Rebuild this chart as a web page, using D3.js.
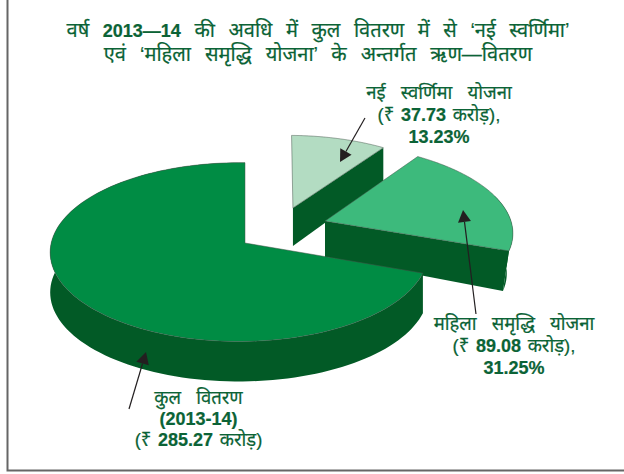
<!DOCTYPE html>
<html>
<head>
<meta charset="utf-8">
<script src="https://cdn.jsdelivr.net/npm/d3@7"></script>
<style>
body { margin: 0; background: #fff; }
svg { display: block; }
text { font-family: "Liberation Sans", "Noto Sans", "DejaVu Sans", sans-serif; fill: #0b6336; stroke: #0b6336; stroke-width: 0.2; text-anchor: middle; }
.num { font-weight: bold; }
</style>
</head>
<body>
<svg id="chart" width="624" height="474"></svg>
<script>
// title and callout lines, each line is a list of [text, bold]
var titleLines = [
    [["वर्ष ", 0], ["2013—14", 1], [" की अवधि में कुल वितरण में से ‘नई स्वर्णिमा’", 0]],
    [["एवं ‘महिला समृद्धि योजना’ के अन्तर्गत ऋण—वितरण", 0]]
]
var lightLabel = [
    [["नई स्वर्णिमा योजना", 0]],
    [["(₹ ", 0], ["37.73", 1], [" करोड़),", 0]],
    [["13.23%", 1]]
]
var mediumLabel = [
    [["महिला समृद्धि योजना", 0]],
    [["(₹ ", 0], ["89.08", 1], [" करोड़),", 0]],
    [["31.25%", 1]]
]
var mainLabel = [
    [["कुल वितरण", 0]],
    [["(2013-14)", 1]],
    [["(₹ ", 0], ["285.27", 1], [" करोड़)", 0]]
]

// angular share of each slice as drawn in the picture (not the printed amounts)
var sliceNames = ["light", "medium", "main"]
var drawnShares = [9.75, 20.75, 69.5]

var svg = d3.select("#chart")

var colors = { light: "#b3dcc2", medium: "#3dba7c", main: "#008c44" }
var sideColor = "#025a26"

// where each slice sits on the tilted disc: apex offset, radius, side depth at apex and at cut end
var place = {
    light:  { u: 0.267, v: -0.415, r: 0.98, turn: 1, ku: 0, depth: [38, 33], lean: 0 },
    medium: { u: 0.439, v: -0.256, r: 1.02, turn: 0, ku: 0, depth: [36, 40], lean: -6 },
    main:   { u: 0, v: 0, r: 1.005, turn: 0, ku: 0.03, depth: [40, 40], lean: 0 }
}

// perspective of the disc
var cx = 245, cy = 243, rx = 187, ry = 88, kv = 0.101
function project(u, v, ku) {
    var w = 1 - kv * v + ku * u
    return [cx + rx * u / w, cy + ry * v / w]
}

var pie = d3.pie().sort(null).value(function(d) { return d })
var arcs = pie(drawnShares)
var line = d3.line()

// slices come out clockwise from 12 o'clock: light, medium, then main
sliceNames.forEach(function(name, i) {
    var p = place[name], a = arcs[i]
    var t0 = a.startAngle + p.turn * Math.PI / 180, t1 = a.endAngle
    var rim = d3.range(0, 121).map(function(j) {
        var t = t0 + (t1 - t0) * j / 120
        return project(p.u + p.r * Math.sin(t), p.v - p.r * Math.cos(t), p.ku)
    })
    var apex = project(p.u, p.v, p.ku)
    var end = name == "main" ? rim[0] : rim[120]
    var down = function(q) {
        var f = name == "main" ? 0 : (q[0] - apex[0]) / (end[0] - apex[0])
        return [q[0] + p.lean * f, q[1] + p.depth[0] + (p.depth[1] - p.depth[0]) * f]
    }

    // side wall: cut face for the two small slices, outer wall for the rest
    if (name != "main") {
        svg.append("path").attr("d", line([apex, end, down(end), down(apex)]) + "Z").attr("fill", sideColor)
    }
    if (name != "light") {
        var wall = name == "main" ? rim : rim.slice(60)
        svg.append("path").attr("d", line(wall.concat(wall.map(down).reverse())) + "Z").attr("fill", sideColor)
    }
    svg.append("path")
        .attr("d", line([apex].concat(rim)) + "Z")
        .attr("fill", colors[name])
        .attr("stroke", "#44544a").attr("stroke-width", 0.5)
})

// frame
svg.append("path").attr("d", "M7.5,0V470.5H624").attr("fill", "none").attr("stroke", "#666").attr("stroke-width", 2)

// callouts
var arrows = [
    { from: [365, 118], tip: [340, 162] },
    { from: [476, 314], tip: [463, 210] },
    { from: [129, 409], tip: [146, 352] }
]
arrows.forEach(function(a) {
    var ang = Math.atan2(a.from[1] - a.tip[1], a.from[0] - a.tip[0])
    var len = 12, half = 6.5
    var bx = a.tip[0] + len * Math.cos(ang), by = a.tip[1] + len * Math.sin(ang)
    svg.append("line").attr("x1", a.from[0]).attr("y1", a.from[1]).attr("x2", bx).attr("y2", by)
        .attr("stroke", "#231f20").attr("stroke-width", 1.2)
    svg.append("path").attr("fill", "#231f20").attr("d", line([
        a.tip,
        [bx - half * Math.sin(ang), by + half * Math.cos(ang)],
        [bx + half * Math.sin(ang), by - half * Math.cos(ang)]
    ]) + "Z")
})

// gap is the word spacing of plain hindi lines, numGap of lines holding a number
function block(lines, x, y, step, hindi, num, gap, numGap) {
    lines.forEach(function(parts, i) {
        var t = svg.append("text").attr("x", x).attr("y", y + i * step)
            .style("word-spacing", (parts.length > 1 ? numGap : gap) + "px")
        parts.forEach(function(p) {
            t.append("tspan").attr("class", p[1] ? "num" : null)
                .style("font-size", (p[1] ? num : hindi) + "px").text(p[0])
        })
    })
}

block(titleLines, 318, 36.5, 24.5, 20, 18, 8.5, 8)
block(lightLabel, 439, 98.5, 22, 18.5, 18, 10, 1.5)
block(mediumLabel, 514, 329.5, 22, 18.5, 18, 10, 1.5)
block(mainLabel, 198.5, 404, 21, 18.5, 18, 10, 1.5)
</script>
</body>
</html>
